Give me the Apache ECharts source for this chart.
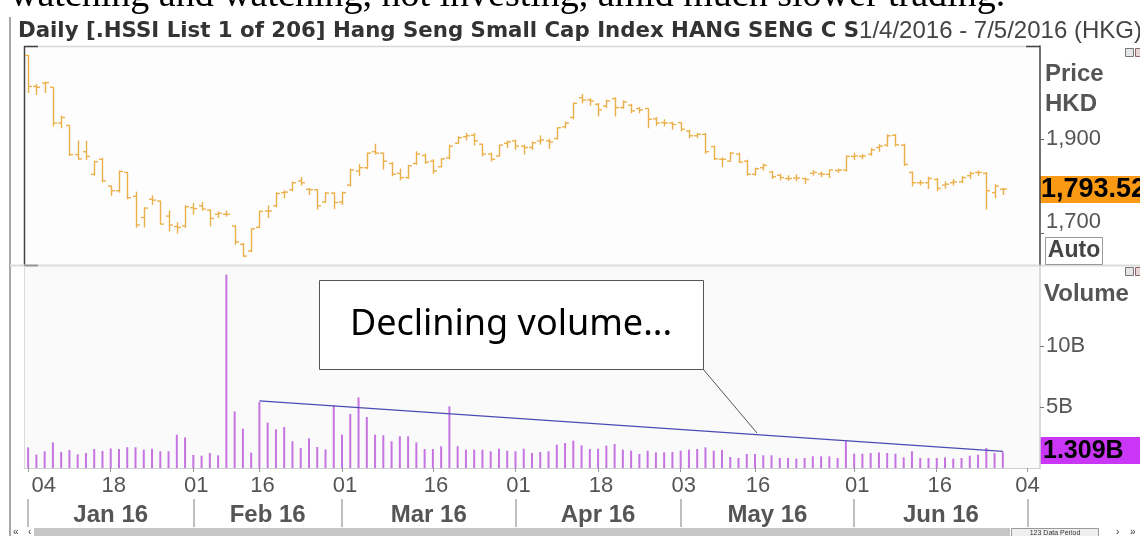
<!DOCTYPE html>
<html><head><meta charset="utf-8">
<script src="https://cdn.jsdelivr.net/npm/echarts@6/dist/echarts.min.js"></script>
<style>html,body{margin:0;padding:0;background:#fff}#c{width:1140px;height:536px}</style>
</head><body><div id="c"></div>
<script>
// ---- categories: HK trading days, 4 Jan - 5 Jul 2016 (123 data periods)
const dates = [
'2016-01-04','2016-01-05','2016-01-06','2016-01-07','2016-01-08','2016-01-11','2016-01-12','2016-01-13','2016-01-14','2016-01-15','2016-01-18','2016-01-19','2016-01-20','2016-01-21','2016-01-22','2016-01-25','2016-01-26','2016-01-27','2016-01-28','2016-01-29',
'2016-02-01','2016-02-02','2016-02-03','2016-02-04','2016-02-05','2016-02-11','2016-02-12','2016-02-15','2016-02-16','2016-02-17','2016-02-18','2016-02-19','2016-02-22','2016-02-23','2016-02-24','2016-02-25','2016-02-26','2016-02-29',
'2016-03-01','2016-03-02','2016-03-03','2016-03-04','2016-03-07','2016-03-08','2016-03-09','2016-03-10','2016-03-11','2016-03-14','2016-03-15','2016-03-16','2016-03-17','2016-03-18','2016-03-21','2016-03-22','2016-03-23','2016-03-24','2016-03-29','2016-03-30','2016-03-31',
'2016-04-01','2016-04-05','2016-04-06','2016-04-07','2016-04-08','2016-04-11','2016-04-12','2016-04-13','2016-04-14','2016-04-15','2016-04-18','2016-04-19','2016-04-20','2016-04-21','2016-04-22','2016-04-25','2016-04-26','2016-04-27','2016-04-28','2016-04-29',
'2016-05-03','2016-05-04','2016-05-05','2016-05-06','2016-05-09','2016-05-10','2016-05-11','2016-05-12','2016-05-13','2016-05-16','2016-05-17','2016-05-18','2016-05-19','2016-05-20','2016-05-23','2016-05-24','2016-05-25','2016-05-26','2016-05-27','2016-05-30','2016-05-31',
'2016-06-01','2016-06-02','2016-06-03','2016-06-06','2016-06-07','2016-06-08','2016-06-10','2016-06-13','2016-06-14','2016-06-15','2016-06-16','2016-06-17','2016-06-20','2016-06-21','2016-06-22','2016-06-23','2016-06-24','2016-06-27','2016-06-28','2016-06-29','2016-06-30',
'2016-07-04','2016-07-05'];

// ---- price (HKD), OHLC
const open = [2078,2012,2019,2010,1934,1929,1867,1873,1825,1857, 1800,1790,1829,1778,1733,1772,1768,1736,1714,1715,
 1754,1758,1749,1740,1740,1715,1676,1662,1712,1747, 1758,1786,1792,1811,1793,1792,1766,1785,1766,1802,
 1832,1839,1873,1870,1848,1827,1818,1848,1865,1853, 1841,1860,1891,1905,1908,1889,1868,1864,1891,1896,
 1885,1882,1896,1896,1901,1926,1946,1988,1983,1974, 1970,1986,1967,1972,1965,1965,1943,1935,1934,1935,
 1917,1907,1910,1884,1857,1853,1868,1853,1825,1839, 1830,1823,1816,1817,1816,1827,1826,1825,1833,1834,
 1863,1863,1868,1882,1887,1908,1887,1829,1807,1807, 1814,1802,1807,1809,1822,1829,1827,1786,1793];
const high = [2078,2016,2021,2010,1949,1929,1896,1895,1853,1859, 1800,1832,1829,1787,1754,1779,1768,1747,1722,1758,
 1763,1765,1749,1745,1747,1715,1678,1709,1747,1758, 1786,1790,1809,1818,1795,1792,1786,1786,1787,1836,
 1846,1870,1889,1870,1850,1836,1844,1873,1868,1856, 1858,1887,1905,1912,1912,1889,1870,1887,1896,1898,
 1887,1894,1907,1900,1924,1936,1976,1995,1986,1976, 1983,1988,1981,1974,1967,1965,1946,1941,1936,1935,
 1919,1912,1912,1885,1860,1871,1870,1855,1838,1847, 1831,1825,1822,1824,1817,1833,1830,1834,1836,1864,
 1870,1867,1880,1888,1909,1910,1889,1830,1812,1819, 1816,1809,1814,1820,1830,1832,1829,1803,1795];
const low = [1999,1995,1999,1928,1924,1865,1857,1857,1823,1809, 1780,1787,1773,1712,1713,1761,1719,1704,1700,1712,
 1740,1749,1715,1733,1736,1676,1650,1660,1712,1733, 1756,1775,1790,1802,1782,1751,1765,1752,1761,1800,
 1822,1837,1868,1836,1822,1813,1816,1846,1848,1827, 1841,1858,1891,1898,1887,1864,1853,1864,1882,1878,
 1868,1878,1889,1880,1900,1924,1943,1977,1972,1949, 1967,1949,1965,1956,1956,1924,1929,1928,1921,1917,
 1903,1903,1870,1856,1841,1853,1850,1823,1823,1834, 1816,1813,1812,1811,1805,1823,1820,1818,1829,1832,
 1856,1858,1865,1874,1885,1885,1844,1800,1802,1795, 1790,1795,1802,1807,1816,1822,1751,1775,1782];
const close = [2012,2010,2020,1934,1946,1867,1858,1863,1852,1811, 1790,1831,1775,1717,1753,1770,1719,1717,1712,1756,
 1752,1751,1731,1742,1740,1681,1651,1709,1746,1747, 1784,1787,1807,1807,1792,1758,1785,1765,1786,1834,
 1839,1870,1870,1853,1825,1818,1843,1868,1851,1832, 1858,1885,1903,1907,1896,1868,1857,1887,1894,1885,
 1882,1892,1898,1894,1924,1934,1976,1983,1981,1962, 1981,1967,1979,1960,1962,1942,1934,1934,1931,1921,
 1907,1910,1873,1858,1857,1870,1851,1825,1837,1844, 1820,1818,1816,1817,1814,1829,1825,1834,1834,1863,
 1864,1864,1877,1885,1907,1888,1846,1807,1807,1816, 1795,1804,1809,1818,1827,1829,1790,1800,1793.52];

// ---- volume (billions)
const volume = [1.69,1.10,1.37,2.10,1.32,1.47,1.12,1.23,1.55,1.40, 1.60,1.55,1.70,1.70,1.50,1.58,1.37,1.37,2.73,2.51,
 1.07,1.01,1.23,1.04,15.85,4.64,3.22,1.26,5.41,3.72, 3.17,3.36,2.19,1.64,2.43,1.72,1.53,5.14,2.73,4.43,
 5.79,4.18,2.73,2.68,2.19,2.60,2.60,2.10,1.56,1.56, 1.78,5.05,1.78,1.50,1.50,1.50,1.37,1.58,1.42,1.37,
 1.58,1.23,1.31,1.37,1.91,2.05,2.24,1.86,1.56,1.58, 1.83,1.97,1.50,1.42,1.15,1.42,1.28,1.28,1.31,1.42,
 1.50,1.56,1.69,1.42,1.48,0.90,0.82,1.15,1.15,1.04, 1.04,0.82,0.82,0.77,0.82,0.96,0.96,0.96,0.82,2.19,
 1.17,1.17,1.23,1.28,1.23,1.17,0.87,1.37,0.82,0.82, 0.82,0.87,0.77,0.82,1.01,1.09,1.64,1.23,1.309];

// ---- declining-volume trendline
const trendDates = ['2016-02-16','2016-06-28'];
const trendValues = [5.5, 1.36];

// ---- axis labels
const dayTickDates = ['2016-01-04','2016-01-18','2016-02-01','2016-02-16','2016-03-01','2016-03-16','2016-04-01','2016-04-18','2016-05-03','2016-05-16','2016-06-01','2016-06-16','2016-07-04'];
const monthNames = ['Jan 16','Feb 16','Mar 16','Apr 16','May 16','Jun 16'];
const monthStarts = ['2016-01-04','2016-02-01','2016-03-01','2016-04-01','2016-05-03','2016-06-01','2016-07-04'];
const priceTicks = [1700, 1900];
const volumeTicks = [5, 10];
const lastPriceText = '1,793.52';
const lastVolumeText = '1.309B';
const titleBold = 'Daily [.HSSI List 1 of 206] Hang Seng Small Cap Index HANG SENG C S';
const titleRange = '1/4/2016 - 7/5/2016 (HKG)';
const noteText = 'Declining volume...';
const topText = 'watching and watching, not investing, amid much slower trading.';

// ---- build
const ohlc = open.map((o, i) => [i, o, high[i], low[i], close[i]]);
const volData = volume.map((v, i) => [dates[i], v]);
const trendData = trendDates.map((d, i) => [d, trendValues[i]]);

const monthStartIdx = monthStarts.map(d => dates.indexOf(d));
const monthLabelAt = {};
for (let k = 0; k < monthNames.length; k++) {
  const mid = (monthStartIdx[k] + monthStartIdx[k + 1]) / 2;
  monthLabelAt[Math.floor(mid)] = { name: monthNames[k], half: mid % 1 !== 0 };
}
const dayIdx = dayTickDates.map(d => dates.indexOf(d));

const FONT = 'Liberation Sans';
const GOLD = '#ebb04a';

function renderOHLC(params, api) {
  const x = api.value(0);
  const pO = api.coord([x, api.value(1)]);
  const pH = api.coord([x, api.value(2)]);
  const pL = api.coord([x, api.value(3)]);
  const pC = api.coord([x, api.value(4)]);
  const cx = Math.round(pH[0]) + 0.5;
  const w = 3.5;
  const st = { stroke: GOLD, lineWidth: 1.4 };
  return { type: 'group', children: [
    { type: 'line', shape: { x1: cx, y1: pH[1] - 0.5, x2: cx, y2: pL[1] + 0.5 }, style: st },
    { type: 'line', shape: { x1: cx - w, y1: pO[1], x2: cx, y2: pO[1] }, style: st },
    { type: 'line', shape: { x1: cx, y1: pC[1], x2: cx + w, y2: pC[1] }, style: st }
  ]};
}

const chart = echarts.init(document.getElementById('c'), null, { renderer: 'canvas' });
chart.setOption({
  animation: false,
  backgroundColor: '#ffffff',
  grid: [
    { left: 24, right: 100, top: 46, height: 219, show: true, backgroundColor: '#fdfdfd', borderWidth: 0 },
    { left: 24, right: 100, top: 265, height: 203, show: true, backgroundColor: '#fafafa', borderWidth: 0 }
  ],
  xAxis: [
    { type: 'category', gridIndex: 0, data: dates, boundaryGap: true, show: false },
    { type: 'category', gridIndex: 1, data: dates, boundaryGap: true, position: 'bottom',
      axisLine: { show: true, lineStyle: { color: '#d0d0d0', width: 1 } },
      axisTick: { show: true, alignWithLabel: true, length: 4, interval: (i) => dayIdx.includes(i), lineStyle: { color: '#999' } },
      axisLabel: { show: true, interval: (i) => dayIdx.includes(i), margin: 7,
        fontFamily: FONT, fontSize: 22, color: '#555',
        formatter: (v, i) => {
          const d = v.slice(8);
          if (i === 0) return '{f|' + d + '}';
          if (i === dates.length - 2) return '{l|' + d + '}';
          return '{d|' + d + '}';
        },
        rich: {
          f: { fontFamily: FONT, fontSize: 22, color: '#555', padding: [0, 0, 0, 31] },
          d: { fontFamily: FONT, fontSize: 22, color: '#555', padding: [0, 0, 0, 6] },
          l: { fontFamily: FONT, fontSize: 22, color: '#555' }
        } },
      splitLine: { show: false } },
    { type: 'category', gridIndex: 1, data: dates, boundaryGap: true, position: 'bottom', offset: 31,
      axisLine: { show: false },
      axisTick: { show: true, alignWithLabel: true, length: 28, interval: (i) => monthStartIdx.includes(i), lineStyle: { color: '#aaa', width: 1.5 } },
      axisLabel: { show: true, interval: (i) => !!monthLabelAt[i], margin: 4,
        formatter: (v, i) => {
          const m = monthLabelAt[i];
          if (!m) return '';
          return (m.half ? '{h|' : '{n|') + m.name + '}';
        },
        rich: {
          n: { fontFamily: FONT, fontWeight: 'bold', fontSize: 24, color: '#555' },
          h: { fontFamily: FONT, fontWeight: 'bold', fontSize: 24, color: '#555', padding: [0, 0, 0, 8.3] }
        } },
      splitLine: { show: false } }
  ],
  yAxis: [
    { type: 'value', gridIndex: 0, position: 'right', min: 1632, max: 2098, scale: true,
      splitLine: { show: false },
      axisLine: { show: true, lineStyle: { color: '#444', width: 1.5 } },
      axisTick: { show: true, customValues: priceTicks, length: 4, lineStyle: { color: '#666' } },
      axisLabel: { show: true, customValues: priceTicks, margin: 6,
        formatter: (v) => v === 1700 ? '{u|1,700}' : '{m|' + v.toLocaleString('en-US') + '}',
        rich: {
          m: { fontFamily: FONT, fontSize: 22, color: '#555' },
          u: { fontFamily: FONT, fontSize: 22, color: '#555', padding: [0, 0, 22, 0] }
        } } },
    { type: 'value', gridIndex: 1, position: 'right', min: 0, max: 16.64,
      splitLine: { show: false },
      axisLine: { show: true, lineStyle: { color: '#cfcfcf', width: 1.5 } },
      axisTick: { show: true, customValues: volumeTicks, length: 4, lineStyle: { color: '#777' } },
      axisLabel: { show: true, customValues: volumeTicks, margin: 6,
        fontFamily: FONT, fontSize: 22, color: '#555', formatter: (v) => v + 'B' } }
  ],
  series: [
    { type: 'custom', name: 'Price', xAxisIndex: 0, yAxisIndex: 0, data: ohlc,
      encode: { x: 0, y: [1, 2, 3, 4] }, renderItem: renderOHLC, clip: true },
    { type: 'bar', name: 'Volume', xAxisIndex: 1, yAxisIndex: 1, data: volData,
      barWidth: 2, itemStyle: { color: '#c574e2' } },
    { type: 'line', name: 'Trend', xAxisIndex: 1, yAxisIndex: 1, data: trendData,
      symbol: 'none', lineStyle: { color: '#4b4bb5', width: 1.2 }, z: 5 }
  ],
  graphic: [
    // clipped article text at the very top
    { type: 'text', silent: true, style: { x: 10, y: -4, text: topText, fontFamily: 'Liberation Serif', fontSize: 38, fill: '#000', verticalAlign: 'middle' } },
    // outer frame
    { type: 'line', silent: true, shape: { x1: 10, y1: 17, x2: 10, y2: 536 }, style: { stroke: '#a8a8a8', lineWidth: 2 } },
    // title
    { type: 'text', silent: true, style: { x: 18, y: 31, verticalAlign: 'middle',
        text: '{b|' + titleBold + '}{n|' + titleRange + '}',
        rich: { b: { fontFamily: 'DejaVu Sans', fontWeight: 'bold', fontSize: 21.3, fill: '#333' },
                n: { fontFamily: FONT, fontSize: 24, fill: '#444' } } } },
    // price panel frame
    { type: 'line', silent: true, shape: { x1: 24, y1: 46.5, x2: 1040, y2: 46.5 }, style: { stroke: '#d8d8d8', lineWidth: 1.5 } },
    { type: 'line', silent: true, shape: { x1: 24, y1: 46.5, x2: 38, y2: 46.5 }, style: { stroke: '#444', lineWidth: 1.5 } },
    { type: 'line', silent: true, shape: { x1: 1026, y1: 46.5, x2: 1040, y2: 46.5 }, style: { stroke: '#444', lineWidth: 1.5 } },
    { type: 'line', silent: true, shape: { x1: 24.5, y1: 46, x2: 24.5, y2: 265 }, style: { stroke: '#444', lineWidth: 1.5 } },
    { type: 'line', silent: true, shape: { x1: 10, y1: 265.5, x2: 1140, y2: 265.5 }, style: { stroke: '#dcdcdc', lineWidth: 2 } },
    { type: 'line', silent: true, shape: { x1: 24, y1: 265.5, x2: 38, y2: 265.5 }, style: { stroke: '#999', lineWidth: 2 } },
    { type: 'line', silent: true, shape: { x1: 24.5, y1: 266, x2: 24.5, y2: 468 }, style: { stroke: '#dadada', lineWidth: 1 } },
    // right-hand labels, price pane
    { type: 'text', silent: true, style: { x: 1045, y: 74, text: 'Price', fontFamily: FONT, fontWeight: 'bold', fontSize: 24, fill: '#555', verticalAlign: 'middle' } },
    { type: 'text', silent: true, style: { x: 1045, y: 104, text: 'HKD', fontFamily: FONT, fontWeight: 'bold', fontSize: 24, fill: '#555', verticalAlign: 'middle' } },
    { type: 'rect', silent: true, shape: { x: 1040, y: 176, width: 100, height: 27 }, style: { fill: '#fa9a14' } },
    { type: 'text', silent: true, style: { x: 1041, y: 190, text: lastPriceText, fontFamily: FONT, fontWeight: 'bold', fontSize: 27, fill: '#000', verticalAlign: 'middle' } },
    { type: 'rect', silent: true, shape: { x: 1045.5, y: 237.5, width: 57, height: 27 }, style: { fill: '#fff', stroke: '#999', lineWidth: 1 } },
    { type: 'text', silent: true, style: { x: 1074, y: 251, text: 'Auto', fontFamily: FONT, fontWeight: 'bold', fontSize: 23, fill: '#444', align: 'center', verticalAlign: 'middle' } },
    // right-hand labels, volume pane
    { type: 'text', silent: true, style: { x: 1044, y: 294, text: 'Volume', fontFamily: FONT, fontWeight: 'bold', fontSize: 24, fill: '#555', verticalAlign: 'middle' } },
    { type: 'rect', silent: true, shape: { x: 1040, y: 437, width: 100, height: 27 }, style: { fill: '#c936f5' } },
    { type: 'text', silent: true, style: { x: 1043, y: 451, text: lastVolumeText, fontFamily: FONT, fontWeight: 'bold', fontSize: 25, fill: '#000', verticalAlign: 'middle' } },
    // tiny pane icons
    { type: 'rect', silent: true, shape: { x: 1125.5, y: 48.5, width: 8, height: 8 }, style: { fill: '#e6e6e6', stroke: '#777', lineWidth: 1 } },
    { type: 'rect', silent: true, shape: { x: 1135.5, y: 48.5, width: 8, height: 8 }, style: { fill: '#e6d6d6', stroke: '#866', lineWidth: 1 } },
    { type: 'rect', silent: true, shape: { x: 1125.5, y: 267.5, width: 8, height: 8 }, style: { fill: '#e6e6e6', stroke: '#777', lineWidth: 1 } },
    { type: 'rect', silent: true, shape: { x: 1135.5, y: 267.5, width: 8, height: 8 }, style: { fill: '#e6d6d6', stroke: '#866', lineWidth: 1 } },
    // annotation
    { type: 'line', silent: true, shape: { x1: 703, y1: 369, x2: 757, y2: 433 }, style: { stroke: '#555', lineWidth: 1 } },
    { type: 'rect', silent: true, shape: { x: 319.5, y: 280.5, width: 384, height: 89 }, style: { fill: '#fff', stroke: '#555', lineWidth: 1 } },
    { type: 'text', silent: true, style: { x: 511, y: 325, text: noteText, fontFamily: 'Noto Sans', fontSize: 36, fill: '#000', align: 'center', verticalAlign: 'middle' } },
    // bottom scroll bar
    { type: 'rect', silent: true, shape: { x: 34, y: 528, width: 976, height: 8 }, style: { fill: '#c6c6c6' } },
    { type: 'text', silent: true, style: { x: 13, y: 532, text: '«', fontFamily: FONT, fontSize: 10, fill: '#333', verticalAlign: 'middle' } },
    { type: 'text', silent: true, style: { x: 28, y: 532, text: '‹', fontFamily: FONT, fontSize: 10, fill: '#333', verticalAlign: 'middle' } },
    { type: 'rect', silent: true, shape: { x: 1011.5, y: 528.5, width: 87, height: 8 }, style: { fill: '#efefef', stroke: '#999', lineWidth: 1 } },
    { type: 'text', silent: true, style: { x: 1055, y: 533, text: '123 Data Period', fontFamily: FONT, fontSize: 7, fill: '#333', align: 'center', verticalAlign: 'middle' } },
    { type: 'text', silent: true, style: { x: 1116, y: 532, text: '›', fontFamily: FONT, fontSize: 10, fill: '#333', verticalAlign: 'middle' } },
    { type: 'text', silent: true, style: { x: 1130, y: 532, text: '»', fontFamily: FONT, fontSize: 10, fill: '#333', verticalAlign: 'middle' } }
  ]
});
</script>
</body></html>
